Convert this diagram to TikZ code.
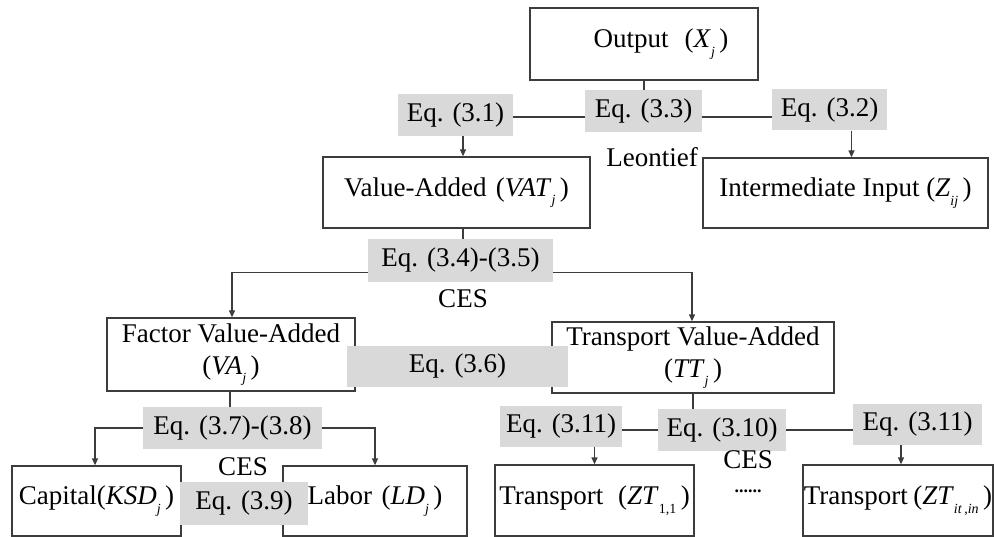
\documentclass[tikz,border=0pt]{standalone}
\usepackage{fontspec}
\setmainfont{Liberation Serif}
\usetikzlibrary{arrows.meta}

\definecolor{eqfill}{RGB}{217,217,217}
\definecolor{linecol}{RGB}{60,60,60}

\newcommand\bigfont{\fontsize{27}{32}\selectfont}
% lowered small subscript
\newcommand\lsub[1]{\raisebox{-0.32em}{\fontsize{14}{14}\selectfont #1}\,}
% italic variable with italic subscript
\newcommand\var[2]{\textit{#1}\lsub{\textit{#2}}}

\tikzset{
  box/.style={draw=linecol, line width=1.3pt, fill=white, inner sep=0pt,
              align=center, font=\bigfont},
  eqbox/.style={fill=eqfill, inner sep=0pt, font=\bigfont},
  lbl/.style={inner sep=0pt, font=\bigfont},
  conn/.style={draw=linecol, line width=1.3pt},
  arr/.style={conn, -{Triangle[length=7pt,width=6pt]}},
}

\begin{document}
\begin{tikzpicture}[x=1pt,y=-1pt]
\useasboundingbox (0,0) rectangle (995,537);

% ---- top level ----
\node[box, minimum width=228pt, minimum height=72pt] (out) at (644,44)
  {\hspace*{34pt}Output\hspace{0.6em}(\var{X}{j})};
\node[box, minimum width=267pt, minimum height=71pt] (va) at (456.5,192.5)
  {Value-Added\hspace{0.35em}(\var{VAT}{j})};
\node[box, minimum width=285pt, minimum height=70pt] (ii) at (845.5,193)
  {Intermediate Input (\var{Z}{ij})};

\node[eqbox, minimum width=115pt, minimum height=42pt] (e31) at (455.5,115) {Eq. (3.1)};
\node[eqbox, minimum width=117pt, minimum height=42pt] (e33) at (643.5,111) {Eq. (3.3)};
\node[eqbox, minimum width=115pt, minimum height=41pt] (e32) at (829.5,110) {Eq. (3.2)};
\node[lbl] (leon) at (652,157) {Leontief};

% ---- value-added split ----
\node[box, minimum width=248pt, minimum height=73pt] (fva) at (231,354.5)
  {Factor Value-Added\\(\var{VA}{j})};
\node[box, minimum width=282pt, minimum height=71pt] (tva) at (693,357.5)
  {Transport Value-Added\\(\var{TT}{j})};
\node[eqbox, minimum width=185pt, minimum height=43pt] (e34) at (460.5,260.5) {Eq. (3.4)-(3.5)};
\node[lbl] (ces1) at (463,299) {CES};
\node[eqbox, minimum width=221pt, minimum height=41pt] (e36) at (457.5,366.5) {Eq. (3.6)};

% ---- factor branch ----
\node[box, minimum width=169pt, minimum height=70pt] (cap) at (96.5,501)
  {Capital(\var{KSD}{j})};
\node[box, minimum width=184pt, minimum height=70pt] (lab) at (375,501)
  {Labor\hspace{0.35em}(\var{LD}{j})};
\node[eqbox, minimum width=179pt, minimum height=42pt] (e37) at (232.5,428) {Eq. (3.7)-(3.8)};
\node[lbl] (ces2) at (243,467) {CES};
\node[eqbox, minimum width=128pt, minimum height=43pt] (e39) at (244,503.5) {Eq. (3.9)};

% ---- transport branch ----
\node[box, minimum width=199pt, minimum height=71pt] (t11) at (594.5,500.5)
  {Transport\hspace{0.55em}(\textit{ZT}\lsub{1,1})};
\node[box, minimum width=190pt, minimum height=71pt] (tin) at (898,500.5)
  {Transport\hspace{0.2em}(\textit{ZT}\lsub{\textit{it}\,,\textit{in}})};
\node[eqbox, minimum width=122pt, minimum height=41pt] (e311a) at (561,426) {Eq. (3.11)};
\node[eqbox, minimum width=128pt, minimum height=42pt] (e310) at (722,430) {Eq. (3.10)};
\node[eqbox, minimum width=129pt, minimum height=41pt] (e311b) at (917.5,424.5) {Eq. (3.11)};
\node[lbl] (ces3) at (748,460) {CES};
\node[lbl, anchor=base, font=\fontsize{18}{18}\selectfont\bfseries] (dots) at (748,492) {......};

% ---- connectors ----
\draw[conn] (out.south) -- (e33.north -| out.south);
\draw[conn] ([yshift=-2pt]e31.east) -- ([yshift=-2pt]e31.east -| e33.west);
\draw[conn] ([yshift=-2pt]e31.east -| e33.east) -- ([yshift=-2pt]e31.east -| e32.west);
\draw[arr] ([xshift=7.5pt]e31.south) -- ([xshift=7.5pt]e31.south |- va.north);
\draw[arr] ([xshift=22pt]e32.south) -- ([xshift=22pt]e32.south |- ii.north);

\draw[conn] ([xshift=6.5pt]va.south) -- ([xshift=6.5pt]va.south |- e34.north);
\draw[arr] ([yshift=-12pt]e34.west) -| ([xshift=1pt]fva.north);
\draw[arr] ([yshift=-12pt]e34.east) -| ([xshift=-1pt]tva.north);

\draw[conn] ([xshift=-1pt]fva.south) -- ([xshift=-1pt]fva.south |- e37.north);
\draw[arr] (e37.west) -| ([xshift=-1.5pt]cap.north);
\draw[arr] (e37.east) -| (lab.north);

\draw[conn] (tva.south) -- (tva.south |- e310.north);
\draw[conn] (e311a.east |- e310.west) -- (e310.west);
\draw[conn] (e310.east) -- (e311b.west |- e310.east);
\draw[arr] (e311a.south -| t11.north) -- (t11.north);
\draw[arr] ([xshift=3pt]e311b.south -| tin.north) -- ([xshift=3pt]tin.north);
\end{tikzpicture}
\end{document}
